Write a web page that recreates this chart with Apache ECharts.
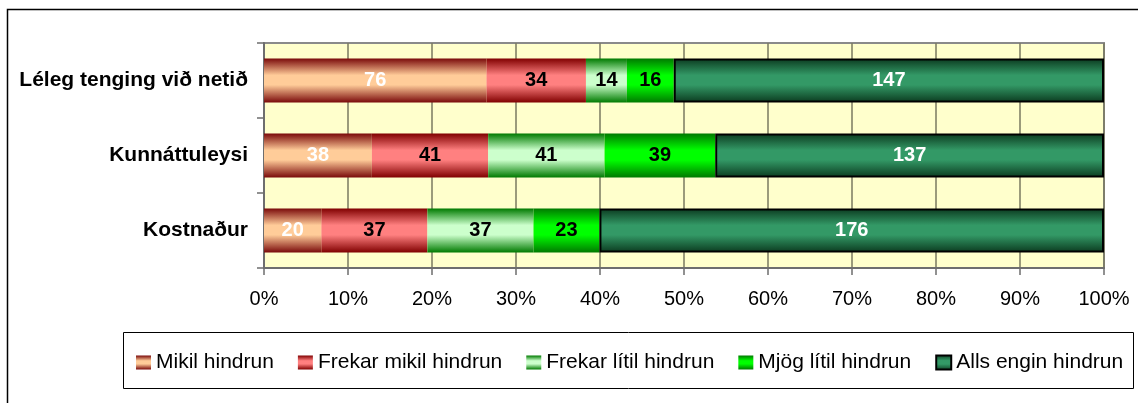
<!DOCTYPE html>
<html>
<head>
<meta charset="utf-8">
<script src="https://cdn.jsdelivr.net/npm/echarts@6/dist/echarts.min.js"></script>
<style>
    html, body { margin: 0; padding: 0; background: #fff; }
    #main { width: 1138px; height: 403px; }
</style>
</head>
<body>
<div id="main"></div>
<script>
// flokkar (ofan frá og niður)
var categories = ['Léleg tenging við netið', 'Kunnáttuleysi', 'Kostnaður'];
var seriesNames = ['Mikil hindrun', 'Frekar mikil hindrun', 'Frekar lítil hindrun', 'Mjög lítil hindrun', 'Alls engin hindrun'];

// fjöldi svara í hverjum flokki
var mikil = [76, 38, 20];
var frekarMikil = [34, 41, 37];
var frekarLitil = [14, 41, 37];
var mjogLitil = [16, 39, 23];
var allsEngin = [147, 137, 176];

var xTicks = [0, 10, 20, 30, 40, 50, 60, 70, 80, 90, 100];

var counts = [mikil, frekarMikil, frekarLitil, mjogLitil, allsEngin];

// litir: [jaðar, miðja]
var colors = [
    ['#7a0a0a', '#ffcc99'],
    ['#800000', '#ff8080'],
    ['#007a00', '#ccffcc'],
    ['#007a00', '#00ff00'],
    ['#0b3a1f', '#339966']
];
var labelColors = ['#ffffff', '#000000', '#000000', '#000000', '#ffffff'];

var FONT = 'Arial, "Liberation Sans", sans-serif';

function grad(c) {
    return new echarts.graphic.LinearGradient(0, 0, 0, 1, [
        { offset: 0, color: c[0] },
        { offset: 0.38, color: c[1] },
        { offset: 0.6, color: c[1] },
        { offset: 1, color: c[0] }
    ]);
}

// heildarfjöldi fyrir hvern flokk
var totals = categories.map(function (c, i) {
    var s = 0;
    for (var k = 0; k < counts.length; k++) s += counts[k][i];
    return s;
});

var series = seriesNames.map(function (name, k) {
    return {
        name: name,
        type: 'bar',
        stack: 'alls',
        barWidth: 44,
        data: counts[k].map(function (v, i) {
            return { value: v / totals[i] * 100, count: v };
        }),
        itemStyle: {
            color: grad(colors[k]),
            borderColor: k === 4 ? '#000000' : 'transparent',
            borderWidth: k === 4 ? 2 : 0
        },
        label: {
            show: true,
            position: 'inside',
            color: labelColors[k],
            fontFamily: FONT,
            fontWeight: 'bold',
            fontSize: 20,
            formatter: function (p) { return p.data.count; }
        },
        emphasis: { disabled: true }
    };
});

var myChart = echarts.init(document.getElementById('main'));
var option = {
    animation: false,
    backgroundColor: '#ffffff',
    graphic: [
        {
            type: 'rect',
            shape: { x: 7.5, y: 9.5, width: 1200, height: 500 },
            style: { fill: 'none', stroke: '#000000', lineWidth: 1.5 },
            z: -1
        },
        {
            type: 'rect',
            shape: { x: 123.5, y: 332.5, width: 1010, height: 56 },
            style: { fill: '#ffffff', stroke: '#000000', lineWidth: 1 },
            z: -1
        }
    ],
    grid: {
        left: 264,
        right: 34,
        top: 43,
        bottom: 135,
        show: true,
        backgroundColor: '#ffffcc',
        borderColor: '#8a8a8a',
        borderWidth: 2
    },
    legend: {
        data: seriesNames.map(function (n) { return { name: n, icon: 'rect' }; }),
        left: 131,
        top: 347,
        itemWidth: 15,
        itemHeight: 14,
        itemGap: 24,
        textStyle: { fontFamily: FONT, fontSize: 21, color: '#000000' }
    },
    xAxis: {
        type: 'value',
        min: xTicks[0],
        max: xTicks[xTicks.length - 1],
        interval: 10,
        axisLine: { show: true, lineStyle: { color: '#6e6e6e', width: 2 } },
        axisTick: { show: true, length: 7, lineStyle: { color: '#6e6e6e', width: 1.5 } },
        splitLine: { show: true, lineStyle: { color: '#7a7a60', width: 1.5 } },
        axisLabel: {
            margin: 21,
            color: '#000000',
            fontFamily: FONT,
            fontSize: 20,
            formatter: function (v) { return v + '%'; }
        }
    },
    yAxis: {
        type: 'category',
        inverse: true,
        data: categories,
        axisLine: { show: true, lineStyle: { color: '#6e6e6e', width: 2 } },
        axisTick: { show: true, length: 7, lineStyle: { color: '#6e6e6e', width: 1.5 } },
        axisLabel: {
            margin: 16,
            color: '#000000',
            fontFamily: FONT,
            fontWeight: 'bold',
            fontSize: 21
        }
    },
    series: series
};
myChart.setOption(option);
</script>
</body>
</html>
